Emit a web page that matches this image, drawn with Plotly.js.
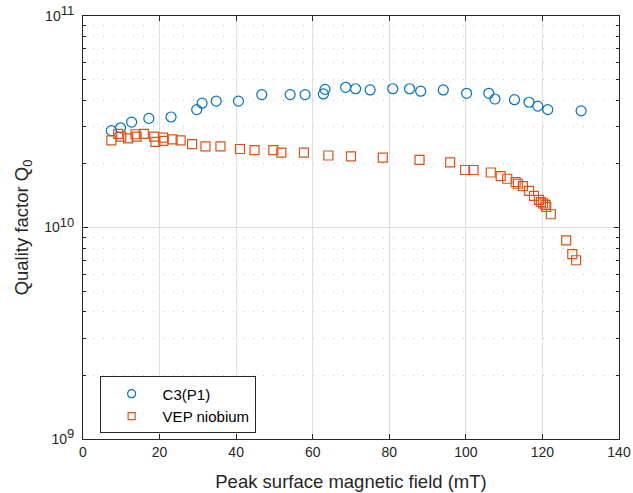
<!DOCTYPE html>
<html>
<head>
<meta charset="utf-8">
<script src="https://cdn.plot.ly/plotly-3.0.1.min.js"></script>
<style>html,body{margin:0;padding:0;background:#fff;}#chart{width:633px;height:493px;}</style>
</head>
<body>
<div id="chart"></div>
<script>
const c3Field = [7.4, 9.8, 12.7, 17.2, 23.0, 29.7, 31.1, 34.8, 40.6, 46.7, 54.1, 58.0, 62.8, 63.2, 68.6, 71.2, 75.0, 80.9, 85.3, 88.2, 94.1, 100.2, 106.0, 107.6, 112.7, 116.5, 118.8, 121.4, 130.1];
const c3Q = [2.87e10, 2.96e10, 3.15e10, 3.28e10, 3.33e10, 3.61e10, 3.87e10, 3.96e10, 3.96e10, 4.25e10, 4.25e10, 4.25e10, 4.28e10, 4.50e10, 4.60e10, 4.53e10, 4.47e10, 4.53e10, 4.53e10, 4.41e10, 4.47e10, 4.31e10, 4.31e10, 4.05e10, 4.02e10, 3.91e10, 3.75e10, 3.61e10, 3.56e10];
const vepField = [7.4, 9.2, 10.0, 11.8, 13.7, 14.0, 15.9, 18.6, 18.9, 20.9, 21.0, 23.4, 25.5, 28.5, 32.0, 35.9, 41.0, 44.8, 49.7, 51.8, 57.7, 64.1, 70.0, 78.3, 87.9, 95.9, 99.8, 102.0, 106.5, 109.1, 110.8, 113.0, 113.6, 114.9, 116.5, 117.8, 119.1, 119.6, 120.2, 120.8, 121.0, 122.2, 126.2, 127.8, 128.8];
const vepQ = [2.58e10, 2.77e10, 2.69e10, 2.64e10, 2.76e10, 2.69e10, 2.77e10, 2.69e10, 2.54e10, 2.66e10, 2.57e10, 2.61e10, 2.58e10, 2.48e10, 2.42e10, 2.42e10, 2.35e10, 2.32e10, 2.32e10, 2.26e10, 2.26e10, 2.19e10, 2.17e10, 2.14e10, 2.09e10, 2.03e10, 1.87e10, 1.87e10, 1.82e10, 1.75e10, 1.70e10, 1.64e10, 1.61e10, 1.57e10, 1.49e10, 1.41e10, 1.35e10, 1.32e10, 1.30e10, 1.28e10, 1.25e10, 1.155e10, 8.70e9, 7.49e9, 7.00e9];
const seriesNames = ['C3(P1)', 'VEP niobium'];
const xTicks = [0, 20, 40, 60, 80, 100, 120, 140];
const yTicks = [1e9, 1e10, 1e11];
const yExponents = ['9', '10', '11'];
const yMinor = [2e9,3e9,4e9,5e9,6e9,7e9,8e9,9e9,2e10,3e10,4e10,5e10,6e10,7e10,8e10,9e10];

const yTickText = yExponents.map(e => '10<sup><span style="font-size:13px">' + e + '</span></sup>');
const axisColor = '#262626';
const fam = 'Liberation Sans, Arial, sans-serif';
const blue = '#0072BD', orange = '#D95319';

const traces = [
  {x: c3Field, y: c3Q, name: seriesNames[0], type: 'scatter', mode: 'markers', showlegend: false,
   marker: {symbol: 'circle-open', size: 10, color: blue, line: {width: 1.2}}},
  {x: vepField, y: vepQ, name: seriesNames[1], type: 'scatter', mode: 'markers', showlegend: false,
   marker: {symbol: 'square-open', size: 9, color: orange, line: {width: 1.2}}},
  {x: [null], y: [null], name: seriesNames[0], type: 'scatter', mode: 'markers',
   marker: {symbol: 'circle-open', size: 8, color: blue, line: {width: 1.2}}},
  {x: [null], y: [null], name: seriesNames[1], type: 'scatter', mode: 'markers',
   marker: {symbol: 'square-open', size: 7, color: orange, line: {width: 1.2}}}
];

const layout = {
  width: 633, height: 493,
  margin: {l: 82.5, r: 13.5, t: 16, b: 54},
  paper_bgcolor: '#fff', plot_bgcolor: '#fff',
  font: {family: fam, size: 14, color: axisColor},
  showlegend: true,
  legend: {x: 0.031, y: 0.148, xanchor: 'left', yanchor: 'top',
           bgcolor: '#fff', bordercolor: axisColor, borderwidth: 1,
           font: {family: fam, size: 15, color: '#000'}, itemwidth: 52, tracegroupgap: 0},
  xaxis: {
    range: [0, 140], tickmode: 'array', tickvals: xTicks,
    ticks: 'inside', ticklen: 5, tickcolor: axisColor, tickwidth: 1,
    showline: true, linecolor: axisColor, linewidth: 1, mirror: 'ticks',
    showgrid: true, gridcolor: '#dfdfdf', gridwidth: 1, zeroline: false,
    tickfont: {family: fam, size: 14, color: axisColor},
    title: {text: 'Peak surface magnetic field (mT)', font: {family: fam, size: 18.5, color: axisColor}, standoff: 16}
  },
  yaxis: {
    type: 'log', range: [9, 11], tickmode: 'array', tickvals: yTicks, ticktext: yTickText,
    ticks: 'inside', ticklen: 5, tickcolor: axisColor, tickwidth: 1, ticklabelstandoff: 5,
    showline: true, linecolor: axisColor, linewidth: 1, mirror: 'ticks',
    showgrid: true, gridcolor: '#dfdfdf', gridwidth: 1, zeroline: false,
    tickfont: {family: fam, size: 14, color: axisColor},
    minor: {tickmode: 'array', tickvals: yMinor, ticks: 'inside', ticklen: 3, tickcolor: axisColor,
            showgrid: true, gridcolor: '#c4c4c4', griddash: '1px,9px', gridwidth: 1},
    title: {text: 'Quality factor Q<sub>0</sub>', font: {family: fam, size: 18.5, color: axisColor}, standoff: 10}
  }
};

Plotly.newPlot('chart', traces, layout, {displayModeBar: false, staticPlot: true});
</script>
</body>
</html>
